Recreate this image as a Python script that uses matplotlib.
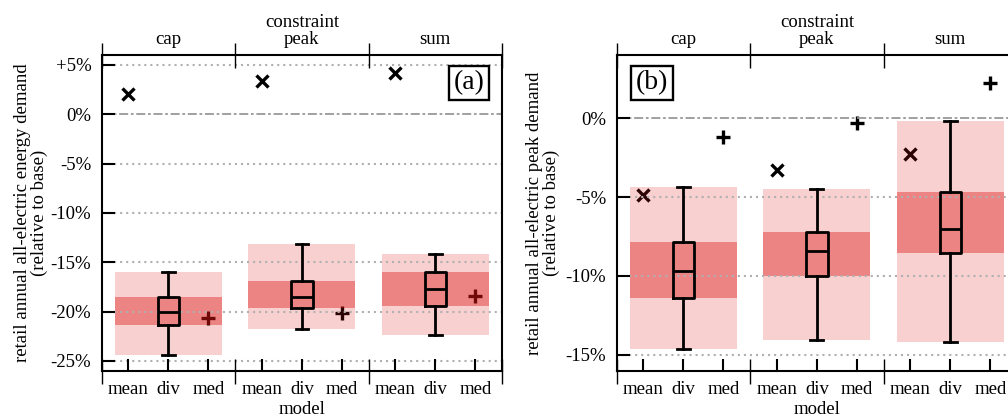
import matplotlib
matplotlib.use("Agg")
import matplotlib.pyplot as plt

plt.rcParams['font.family'] = ['Liberation Serif', 'DejaVu Serif']
plt.rcParams['font.size'] = 13.5

# data (percent change relative to base)
groups = ['cap', 'constraint\npeak', 'sum']
models = ['mean', 'div', 'med']

a_mean = [2.0, 3.4, 4.2]
a_med = [-20.7, -20.1, -18.4]
a_whislo = [-24.4, -21.8, -22.4]
a_q1 = [-21.4, -19.6, -19.4]
a_median = [-20.0, -18.55, -17.75]
a_q3 = [-18.5, -16.9, -16.0]
a_whishi = [-16.0, -13.15, -14.15]
a_yticks = [5, 0, -5, -10, -15, -20, -25]
a_yticklabels = ['+5%', '0%', '-5%', '-10%', '-15%', '-20%', '-25%']

b_mean = [-4.9, -3.3, -2.3]
b_med = [-1.2, -0.3, 2.2]
b_whislo = [-14.6, -14.05, -14.2]
b_q1 = [-11.4, -10.0, -8.55]
b_median = [-9.7, -8.4, -7.0]
b_q3 = [-7.85, -7.2, -4.7]
b_whishi = [-4.35, -4.5, -0.2]
b_yticks = [0, -5, -10, -15]
b_yticklabels = ['0%', '-5%', '-10%', '-15%']

BAND = (220/255, 20/255, 20/255)
GRID = '#b0b0b0'


def panel(ax, mean, med, whislo, q1, median, q3, whishi, yticks, yticklabels,
          ylim, ylabel, labelx, tag, tagpos):
    gx = [0, 1, 2]
    # markers go under the translucent bands so they pick up the tint
    ax.plot([g + 0.2 for g in gx], mean, ls='none', marker='x', ms=8, mew=2.4,
            color='black', zorder=1)
    ax.plot([g + 0.8 for g in gx], med, ls='none', marker='+', ms=10, mew=2.4,
            color='black', zorder=1)
    for g in gx:
        ax.fill_between([g + 0.1, g + 0.9], whislo[g], whishi[g], color=BAND,
                        alpha=0.2, lw=0, zorder=1.2)
        ax.fill_between([g + 0.1, g + 0.9], q1[g], q3[g], color=BAND,
                        alpha=0.4, lw=0, zorder=1.3)
    for y in yticks:
        if y == 0:
            ax.axhline(y, color='#999999', lw=1.3, ls=(0, (5, 1.5, 1.5, 1.5)), zorder=1.5)
        else:
            ax.axhline(y, color=GRID, lw=1.5, ls=(0, (1, 1.9)), zorder=1.5)
    stats = []
    for g in gx:
        stats.append(dict(med=median[g], q1=q1[g], q3=q3[g], whislo=whislo[g],
                          whishi=whishi[g], fliers=[]))
    lp = dict(color='black', lw=2)
    ax.bxp(stats, positions=[g + 0.5 for g in gx], widths=0.16, capwidths=0.095,
           showfliers=False, boxprops=lp, whiskerprops=lp, capprops=lp,
           medianprops=lp, manage_ticks=False, zorder=3)

    ax.set_xlim(0, 3)
    ax.set_ylim(*ylim)
    ax.set_yticks(yticks)
    ax.set_yticklabels(yticklabels)
    ax.set_xticks([g + o for g in gx for o in (0.2, 0.5, 0.8)])
    ax.set_xticklabels(models * 3)
    ax.set_xticks([0, 1, 2, 3], minor=True)
    ax.tick_params(axis='y', which='major', direction='in', length=9.5, width=1.5,
                   pad=7.5, right=False)
    ax.tick_params(axis='x', which='major', direction='in', length=9, width=1.5,
                   pad=7.5, top=False)
    ax.tick_params(axis='x', which='minor', direction='inout', length=18, width=1,
                   top=True, bottom=True)
    for s in ax.spines.values():
        s.set_linewidth(1.5)
    for g in gx:
        ax.annotate(groups[g], xy=(g + 0.5, 1), xycoords=('data', 'axes fraction'),
                    xytext=(0, 5), textcoords='offset points', ha='center',
                    va='bottom', linespacing=1.0)
    ax.set_xlabel('model', labelpad=2)
    ax.set_ylabel(ylabel, linespacing=1.0)
    ax.yaxis.set_label_coords(labelx, 0.5)
    ax.text(tagpos[0], tagpos[1], tag, transform=ax.transAxes, fontsize=20,
            ha='center', va='center', zorder=5,
            bbox=dict(boxstyle='square,pad=0.17', fc='white', ec='black', lw=1.7))


fig = plt.figure(figsize=(10.08, 4.15), dpi=100)
ax1 = fig.add_axes([0.1009, 0.1067, 0.3971, 0.7608])
ax2 = fig.add_axes([0.6118, 0.1067, 0.3971, 0.7608])

panel(ax1, a_mean, a_med, a_whislo, a_q1, a_median, a_q3, a_whishi,
      a_yticks, a_yticklabels, (-26, 6),
      'retail annual all-electric energy demand\n(relative to base)', -0.134,
      '(a)', (0.917, 0.912))
panel(ax2, b_mean, b_med, b_whislo, b_q1, b_median, b_q3, b_whishi,
      b_yticks, b_yticklabels, (-16, 4),
      'retail annual all-electric peak demand\n(relative to base)', -0.142,
      '(b)', (0.0887, 0.911))

fig.savefig('out.png', dpi=100)
